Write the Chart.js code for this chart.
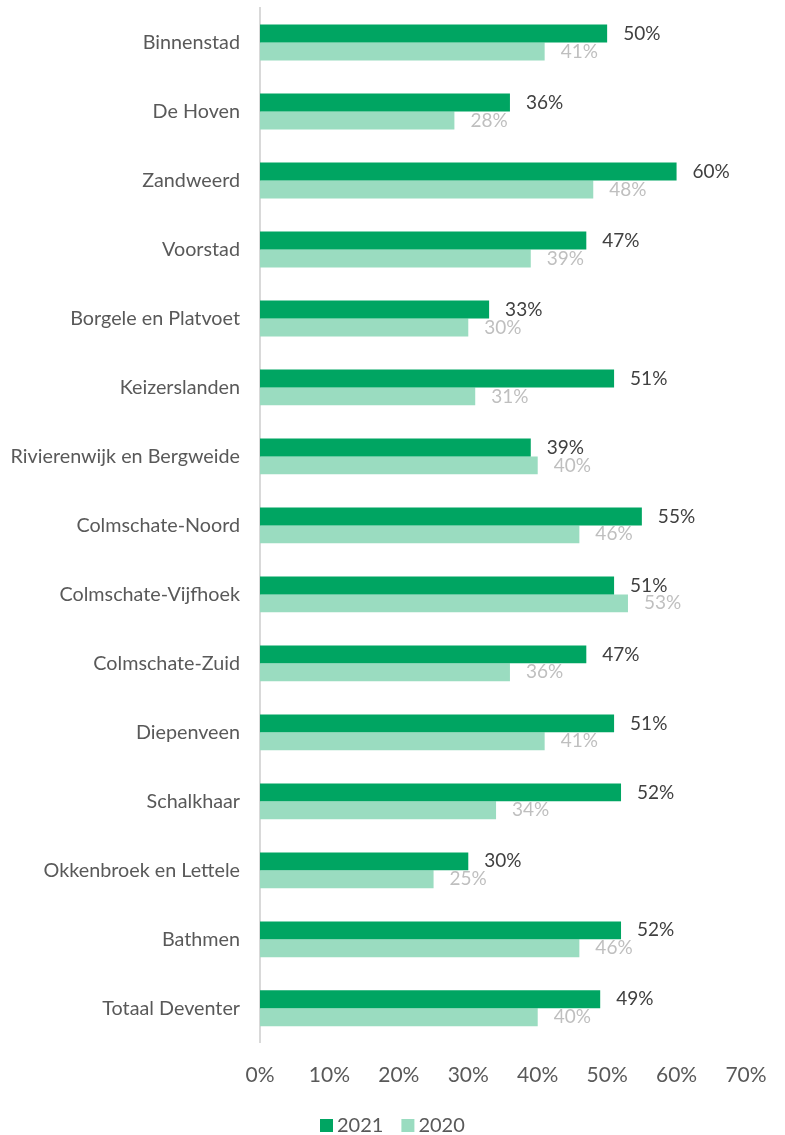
<!DOCTYPE html>
<html>
<head>
<meta charset="utf-8">
<script src="https://cdn.jsdelivr.net/npm/chart.js@4"></script>
<style>
  html, body { margin: 0; padding: 0; background: #fff; }
  #wrap { width: 785px; height: 1135px; }
</style>
</head>
<body>
<div id="wrap"><canvas id="myChart" width="785" height="1135"></canvas></div>
<script>
const wijken = ['Binnenstad', 'De Hoven', 'Zandweerd', 'Voorstad', 'Borgele en Platvoet',
  'Keizerslanden', 'Rivierenwijk en Bergweide', 'Colmschate-Noord', 'Colmschate-Vijfhoek',
  'Colmschate-Zuid', 'Diepenveen', 'Schalkhaar', 'Okkenbroek en Lettele', 'Bathmen', 'Totaal Deventer'];
const waarden2021 = [50, 36, 60, 47, 33, 51, 39, 55, 51, 47, 51, 52, 30, 52, 49];
const waarden2020 = [41, 28, 48, 39, 30, 31, 40, 46, 53, 36, 41, 34, 25, 46, 40];
const xTicks = [0, 10, 20, 30, 40, 50, 60, 70];

const font = 'Lato, "Open Sans", sans-serif';

// labels next to the bar ends
const barLabels = {
  id: 'barLabels',
  afterDatasetsDraw(chart) {
    const ctx = chart.ctx;
    ctx.save();
    ctx.font = '19px ' + font;
    ctx.textAlign = 'left';
    ctx.textBaseline = 'middle';
    chart.data.datasets.forEach((ds, i) => {
      const meta = chart.getDatasetMeta(i);
      ctx.fillStyle = ds.labelColor;
      meta.data.forEach((el, j) => {
        ctx.fillText(ds.data[j] + '%', el.x + 16, el.y);
      });
    });
    ctx.restore();
  }
};

// small legend at the bottom, tight like the excel one
const bottomLegend = {
  id: 'bottomLegend',
  afterDraw(chart) {
    const ctx = chart.ctx;
    ctx.save();
    ctx.font = '20px ' + font;
    ctx.textBaseline = 'middle';
    ctx.textAlign = 'left';
    let x = 320;
    const y = 1126;
    chart.data.datasets.forEach((ds) => {
      ctx.fillStyle = ds.backgroundColor;
      ctx.fillRect(x, y - 7, 13, 13);
      ctx.fillStyle = '#595959';
      ctx.fillText(ds.label, x + 17, y);
      x += 17 + ctx.measureText(ds.label).width + 18;
    });
    ctx.restore();
  }
};

const ctx = document.getElementById('myChart').getContext('2d');
const myChart = new Chart(ctx, {
  type: 'bar',
  data: {
    labels: wijken,
    datasets: [{
      label: '2021',
      data: waarden2021,
      backgroundColor: '#00A562',
      labelColor: '#404040',
      categoryPercentage: 0.52,
      barPercentage: 1
    }, {
      label: '2020',
      data: waarden2020,
      backgroundColor: '#9ADCC0',
      labelColor: '#BFBFBF',
      categoryPercentage: 0.52,
      barPercentage: 1
    }]
  },
  options: {
    indexAxis: 'y',
    responsive: false,
    animation: false,
    layout: { padding: { top: 8, right: 39, bottom: 27, left: 0 } },
    scales: {
      x: {
        min: 0,
        max: 70,
        afterBuildTicks: (scale) => { scale.ticks = xTicks.map(v => ({ value: v })); },
        afterFit: (scale) => { scale.paddingLeft = 0; scale.paddingRight = 0; },
        grid: { display: false, drawTicks: false },
        border: { display: false },
        ticks: {
          color: '#595959',
          font: { family: font, size: 21 },
          padding: 20,
          callback: (v) => v + '%'
        }
      },
      y: {
        afterFit: (scale) => { scale.width = 260; scale.paddingTop = 0; scale.paddingBottom = 0; },
        grid: { display: false, drawTicks: false },
        border: { color: '#D9D9D9', width: 2 },
        ticks: {
          color: '#595959',
          font: { family: font, size: 19.75 },
          padding: 20
        }
      }
    },
    plugins: {
      legend: { display: false },
      tooltip: { enabled: false }
    }
  },
  plugins: [barLabels, bottomLegend]
});
</script>
</body>
</html>
